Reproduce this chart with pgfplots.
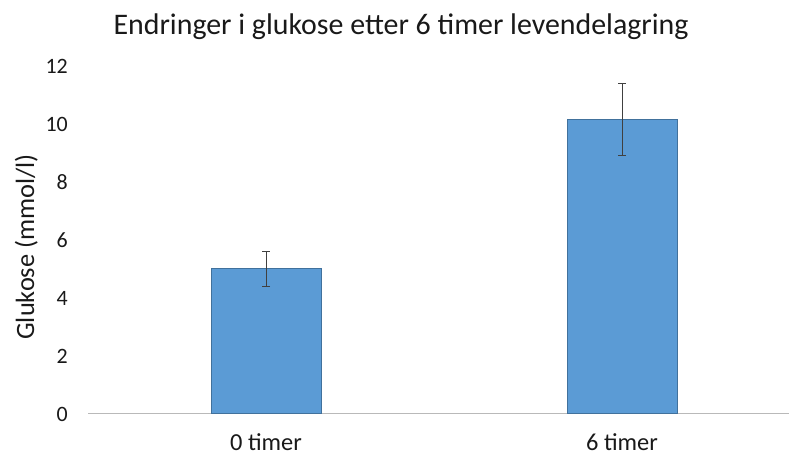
\documentclass[border=0pt]{standalone}
\usepackage{pgfplots}
\pgfplotsset{compat=1.18}
\usepackage{fontspec}
\setmainfont{Carlito}
\definecolor{barfill}{HTML}{5B9BD5}
\definecolor{barline}{HTML}{41719C}
\begin{document}
\begin{tikzpicture}[x=1bp,y=1bp]
\useasboundingbox (0,0) rectangle (789,459);
\begin{scope}[overlay]
\begin{axis}[
  at={(88bp,45bp)}, anchor=south west,
  scale only axis, width=701bp, height=348bp,
  xmin=-0.5, xmax=1.469, ymin=0, ymax=12,
  ytick={0,2,...,12}, xtick={0,1}, xticklabels={0 timer,6 timer},
  axis x line*=bottom, axis y line*=left,
  y axis line style={draw=none},
  x axis line style={draw=gray!55, line width=1bp, -},
  major tick length=0,
  /pgf/number format/assume math mode=true,
  ticklabel style={font=\fontsize{22}{24}\selectfont, text=black!90, inner sep=0pt},
  yticklabel style={anchor=east, xshift=-20bp},
  xticklabel style={anchor=base, yshift=-37bp, font=\fontsize{24.5}{27}\selectfont},
  ylabel={Glukose (mmol/l)},
  ylabel style={at={(axis description cs:-0.088,0.48)}, anchor=center, inner sep=0pt, font=\fontsize{26.5}{29}\selectfont, text=black!90},
  ybar, bar width=110bp,
  clip=false,
]
\addplot[fill=barfill, draw=barline, line width=1bp,
  error bars/.cd, y dir=both, y explicit,
  error bar style={draw=black!75, line width=1bp},
  error mark options={rotate=90, mark size=4bp, draw=black!75, line width=1bp}]
  coordinates {(0,5.0) +- (0,0.62) (1,10.15) +- (0,1.23)};
\end{axis}
\end{scope}
\node[anchor=base, inner sep=0pt, font=\fontsize{30}{33}\selectfont, text=black!90] at (401bp,424bp) {Endringer i glukose etter 6 timer levendelagring};
\end{tikzpicture}
\end{document}
